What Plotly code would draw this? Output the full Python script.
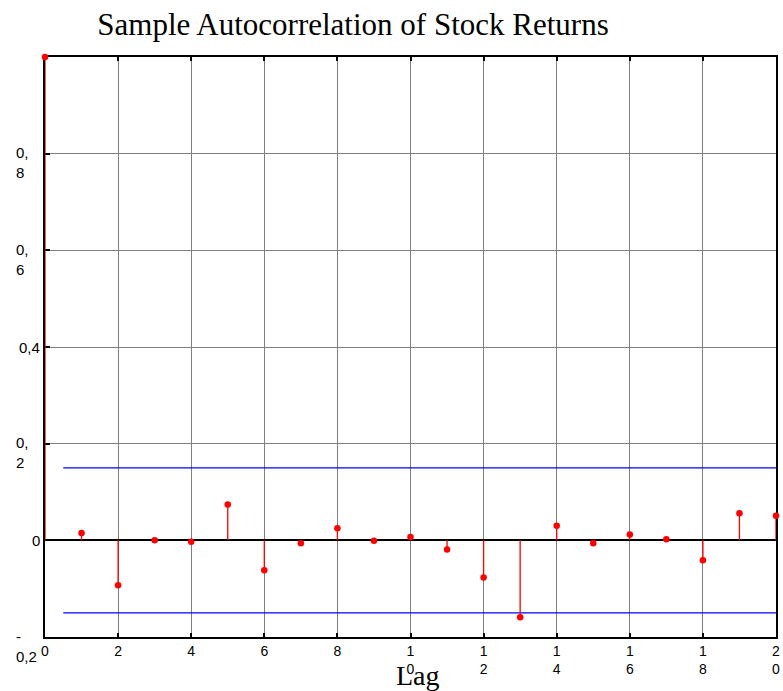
import plotly.graph_objects as go

# Sample autocorrelation by lag
lags = list(range(21))
acf = [1.0, 0.015, -0.093, 0.0, -0.003, 0.074, -0.062, -0.006, 0.025, -0.001,
       0.007, -0.019, -0.077, -0.159, 0.030, -0.006, 0.012, 0.002, -0.041,
       0.056, 0.051]

# Approximate 95% confidence bounds
conf_bound = 0.15
conf_lag_start = 0.5
conf_lag_end = 20

# Axis ticks
x_tickvals = [0, 2, 4, 6, 8, 10, 12, 14, 16, 18, 20]
x_ticktext = ["0", "2", "4", "6", "8", "1<br>0", "1<br>2", "1<br>4",
              "1<br>6", "1<br>8", "2<br>0"]
y_tickvals = [-0.2, 0.0, 0.2, 0.4, 0.6, 0.8]
y_ticktext = ["-<br>0,2", "0", "0,<br>2", "0,4", "0,<br>6", "0,<br>8"]

RED = "#ff0000"
BLUE = "#0000ff"
SANS = "Liberation Sans"
SERIF = "Liberation Serif"

# Stems: vertical segments from zero to each autocorrelation value
stem_x, stem_y = [], []
for lag, r in zip(lags, acf):
    stem_x += [lag, lag, None]
    stem_y += [0, r, None]

fig = go.Figure()

for sign in (1, -1):
    fig.add_trace(go.Scatter(
        x=[conf_lag_start, conf_lag_end], y=[sign * conf_bound] * 2,
        mode="lines", line=dict(color=BLUE, width=1.2),
        hoverinfo="skip", showlegend=False, cliponaxis=False))

fig.add_trace(go.Scatter(
    x=stem_x, y=stem_y, mode="lines",
    line=dict(color=RED, width=1.3),
    hoverinfo="skip", showlegend=False, cliponaxis=False))

fig.add_trace(go.Scatter(
    x=lags, y=acf, mode="markers",
    marker=dict(color=RED, size=6.5, line=dict(width=0)),
    showlegend=False, cliponaxis=False))

# Y tick labels, first line centred on the gridline
annotations = []
for v, t in zip(y_tickvals, y_ticktext):
    multi = "<br>" in t
    annotations.append(dict(
        xref="paper", yref="y", x=0, y=v, text=t, showarrow=False,
        xanchor="left" if multi else "right",
        yanchor="top" if multi else "middle",
        align="left", xshift=-31 if multi else -3,
        yshift=11.5 if multi else 0,
        font=dict(family=SANS, size=15, color="black")))

annotations.append(dict(
    xref="paper", yref="paper", x=0.5, y=0, text="Lag", showarrow=False,
    xanchor="center", yanchor="middle", xshift=7, yshift=-38,
    font=dict(family=SERIF, size=28, color="black")))

fig.update_layout(
    width=783, height=691,
    margin=dict(l=45, r=3, t=57, b=54),
    paper_bgcolor="white", plot_bgcolor="white",
    title=dict(text="Sample Autocorrelation of Stock Returns",
               xref="container", yref="container",
               x=353 / 783, y=1 - 24 / 691,
               xanchor="center", yanchor="middle",
               font=dict(family=SERIF, size=31, color="black")),
    annotations=annotations,
    showlegend=False,
)

fig.update_xaxes(
    range=[0, 20], tickvals=x_tickvals, ticktext=x_ticktext,
    tickfont=dict(family=SANS, size=14, color="black"),
    showgrid=True, gridcolor="#7f7f7f", gridwidth=1,
    zeroline=False,
    showline=True, linecolor="black", linewidth=2, mirror="ticks",
    ticks="inside", ticklen=4, tickcolor="black", tickwidth=1.5,
    layer="below traces",
)

fig.update_yaxes(
    range=[-0.2, 1.0], tickvals=y_tickvals, showticklabels=False,
    showgrid=True, gridcolor="#7f7f7f", gridwidth=1,
    zeroline=True, zerolinecolor="black", zerolinewidth=2,
    showline=True, linecolor="black", linewidth=2, mirror=True,
    ticks="inside", ticklen=5, tickcolor="black", tickwidth=1.5,
    layer="below traces",
)

fig.write_html("out.html")
